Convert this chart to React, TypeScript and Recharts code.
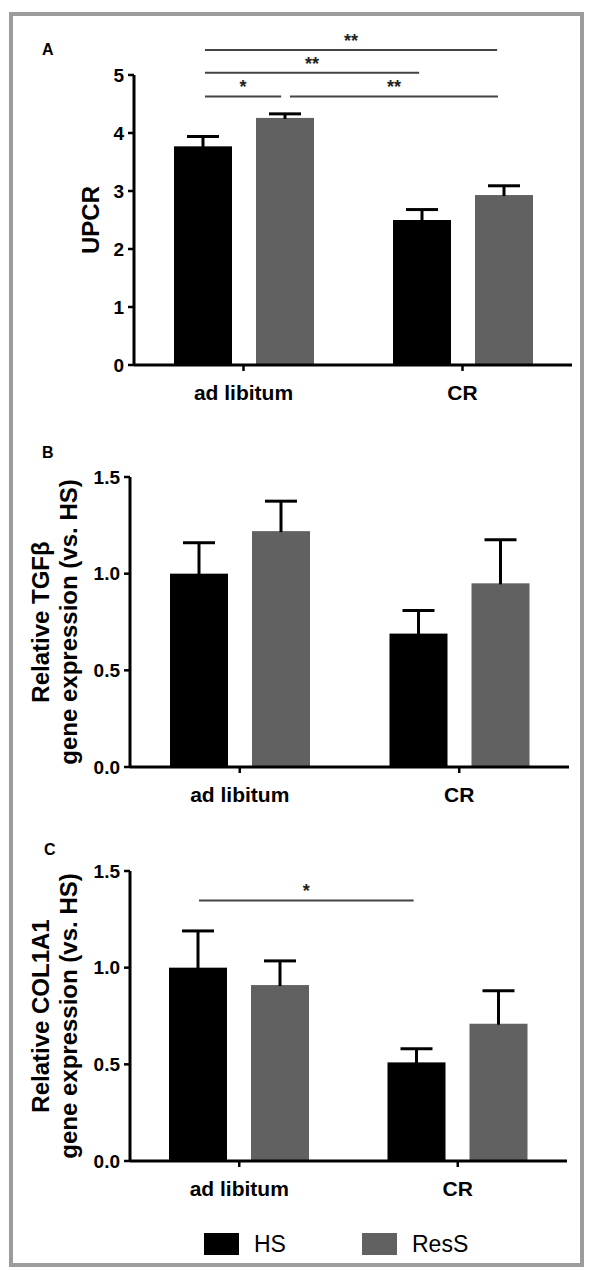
import { BarChart, Bar, XAxis, YAxis, ReferenceLine } from 'recharts';

const GROUPS = ['ad libitum', 'CR'];
const SERIES = ['HS', 'ResS'];
const COLORS = ['#000000', '#616161'];

// A: UPCR
const upcrHS = [3.77, 2.5];
const upcrHSErr = [0.17, 0.18];
const upcrResS = [4.26, 2.93];
const upcrResSErr = [0.07, 0.16];
const upcrTicks = [0, 1, 2, 3, 4, 5];

// B: TGFβ
const tgfHS = [1.0, 0.69];
const tgfHSErr = [0.16, 0.12];
const tgfResS = [1.22, 0.95];
const tgfResSErr = [0.155, 0.225];

// C: COL1A1
const colHS = [1.0, 0.51];
const colHSErr = [0.19, 0.07];
const colResS = [0.91, 0.71];
const colResSErr = [0.125, 0.17];

const relTicks = [0, 0.5, 1.0, 1.5];

// significance brackets: from/to as a fraction of the group axis (0..1), at value y
const upcrSig = [
  { from: 0.162, to: 0.829, y: 5.43, mark: '**' },
  { from: 0.162, to: 0.651, y: 5.04, mark: '**' },
  { from: 0.162, to: 0.336, y: 4.63, mark: '*' },
  { from: 0.356, to: 0.831, y: 4.63, mark: '**' },
];
const colSig = [{ from: 0.158, to: 0.649, y: 1.348, mark: '*' }];

const FONT = "'Liberation Sans', Arial, sans-serif";

function rows(hs: number[], hsErr: number[], res: number[], resErr: number[]) {
  return GROUPS.map((g, i) => ({ group: g, HS: hs[i], HSErr: hsErr[i], ResS: res[i], ResSErr: resErr[i] }));
}

function errShape(key: string) {
  return (props: any) => {
    const { x, y, width, height, fill, payload } = props;
    const v = payload[key];
    const e = payload[key + 'Err'];
    const k = v ? height / v : 0;
    const cx = x + width / 2;
    const top = y - e * k;
    return (
      <g>
        <rect x={x} y={y} width={width} height={height} fill={fill} />
        <line x1={cx} x2={cx} y1={y + 1} y2={top} stroke="#000" strokeWidth={3} />
        <line x1={cx - 16} x2={cx + 16} y1={top} y2={top} stroke="#000" strokeWidth={3} />
      </g>
    );
  };
}

function yTitle(lines: string[], baselines: number[]) {
  return (props: any) => {
    const vb = props.viewBox;
    const cy = vb.y + vb.height / 2;
    return (
      <g>
        {lines.map((t, i) => (
          <text
            key={t}
            x={baselines[i]}
            y={cy}
            transform={`rotate(-90, ${baselines[i]}, ${cy})`}
            textAnchor="middle"
            fontFamily={FONT}
            fontWeight="bold"
            fontSize={24}
            fill="#000"
          >
            {t}
          </text>
        ))}
      </g>
    );
  };
}

interface PanelProps {
  data: any[];
  top: number;
  height: number;
  margin: { top: number; right: number; bottom: number; left: number };
  domain: [number, number];
  ticks: number[];
  decimals: number;
  title: string[];
  titleX: number[];
  sig: { from: number; to: number; y: number; mark: string }[];
}

function Panel({ data, top, height, margin, domain, ticks, decimals, title, titleX, sig }: PanelProps) {
  const axisStroke = { stroke: '#000', strokeWidth: 3 };
  const tickStroke = { stroke: '#000', strokeWidth: 2.5 };
  return (
    <div style={{ position: 'absolute', left: 0, top }}>
      <BarChart width={591} height={height} data={data} margin={margin} barSize={58} barGap={24}>
        <XAxis
          dataKey="group"
          height={40}
          axisLine={axisStroke}
          tickLine={tickStroke}
          tickSize={6}
          tickMargin={14}
          tick={{ fontSize: 21, fontWeight: 'bold', fill: '#000', fontFamily: FONT }}
        />
        <XAxis xAxisId="pos" type="number" domain={[0, 1]} allowDataOverflow hide />
        <YAxis
          width={60}
          domain={domain}
          ticks={ticks}
          interval={0}
          axisLine={axisStroke}
          tickLine={tickStroke}
          tickSize={6}
          tickMargin={4}
          tickFormatter={(v: number) => v.toFixed(decimals)}
          tick={{ fontSize: 19, fontWeight: 'bold', fill: '#000', fontFamily: FONT }}
          label={{ content: yTitle(title, titleX) }}
        />
        {sig.map((s, i) => (
          <ReferenceLine
            key={i}
            xAxisId="pos"
            segment={[{ x: s.from, y: s.y }, { x: s.to, y: s.y }]}
            ifOverflow="visible"
            stroke="#444"
            strokeWidth={2}
            label={{ value: s.mark, position: 'top', offset: 3, fill: '#222', fontSize: 18, fontWeight: 'bold', fontFamily: FONT }}
          />
        ))}
        {SERIES.map((s, i) => (
          <Bar key={s} dataKey={s} fill={COLORS[i]} shape={errShape(s)} isAnimationActive={false} />
        ))}
      </BarChart>
    </div>
  );
}

const letterStyle: React.CSSProperties = {
  position: 'absolute',
  fontFamily: FONT,
  fontWeight: 'bold',
  fontSize: 16,
  lineHeight: '16px',
};

export default function App() {
  return (
    <div style={{ position: 'absolute', left: 0, top: 0, width: 591, height: 1270, background: '#fff', fontFamily: FONT }}>
      <div
        style={{
          position: 'absolute',
          left: 9,
          top: 12,
          width: 575,
          height: 1255,
          boxSizing: 'border-box',
          border: '4px solid #9c9c9c',
        }}
      />
      <div style={{ ...letterStyle, left: 42, top: 42 }}>A</div>
      <div style={{ ...letterStyle, left: 42, top: 445 }}>B</div>
      <div style={{ ...letterStyle, left: 44, top: 842 }}>C</div>

      <Panel
        data={rows(upcrHS, upcrHSErr, upcrResS, upcrResSErr)}
        top={0}
        height={420}
        margin={{ top: 75, right: 19, bottom: 15, left: 74 }}
        domain={[0, 5]}
        ticks={upcrTicks}
        decimals={0}
        title={['UPCR']}
        titleX={[99]}
        sig={upcrSig}
      />
      <Panel
        data={rows(tgfHS, tgfHSErr, tgfResS, tgfResSErr)}
        top={420}
        height={400}
        margin={{ top: 57, right: 22, bottom: 13, left: 70 }}
        domain={[0, 1.5]}
        ticks={relTicks}
        decimals={1}
        title={['Relative TGFβ', 'gene expression (vs. HS)']}
        titleX={[49, 77]}
        sig={[]}
      />
      <Panel
        data={rows(colHS, colHSErr, colResS, colResSErr)}
        top={820}
        height={390}
        margin={{ top: 51, right: 24, bottom: 9, left: 70 }}
        domain={[0, 1.5]}
        ticks={relTicks}
        decimals={1}
        title={['Relative COL1A1', 'gene expression (vs. HS)']}
        titleX={[49, 77]}
        sig={colSig}
      />

      {SERIES.map((s, i) => (
        <div
          key={s}
          style={{
            position: 'absolute',
            left: 204 + i * 158,
            top: 1232,
            display: 'flex',
            alignItems: 'center',
            gap: 15,
            fontSize: 23,
            lineHeight: '24px',
          }}
        >
          <div style={{ width: 35, height: 22, background: COLORS[i] }} />
          <span>{s}</span>
        </div>
      ))}
    </div>
  );
}
